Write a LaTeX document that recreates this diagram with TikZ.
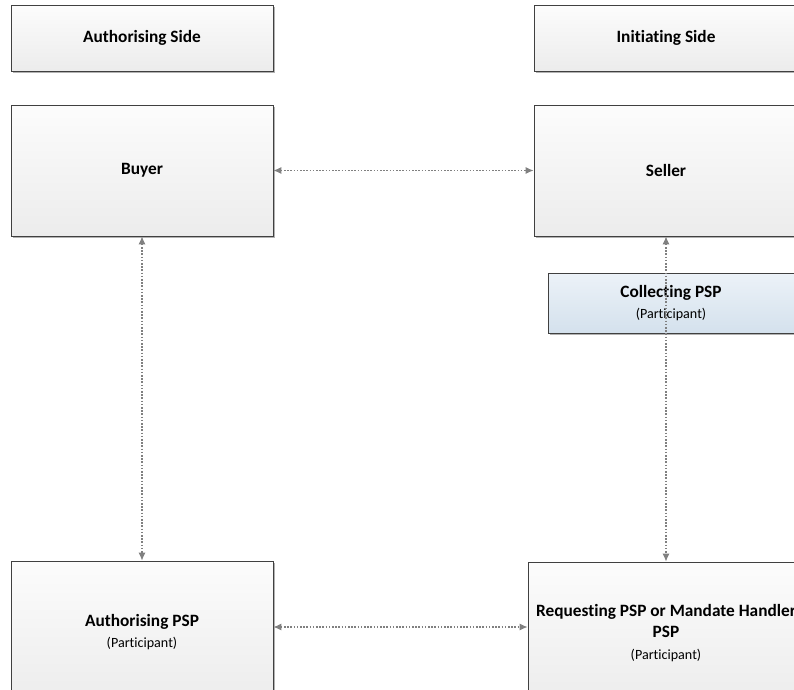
\documentclass[tikz,border=0pt]{standalone}
\usepackage{fontspec}
\setmainfont{Carlito}[RawFeature={-liga;-clig;-calt;-dlig}]
\usetikzlibrary{arrows.meta,shadows}
\definecolor{boxtop}{RGB}{252,252,252}
\definecolor{boxbottom}{RGB}{236,236,236}
\definecolor{bluetop}{RGB}{236,242,248}
\definecolor{bluebottom}{RGB}{212,225,237}
\definecolor{linkgray}{RGB}{128,128,128}
\newcommand{\participantfont}{\normalfont\fontsize{14.1}{21.5}\selectfont}
\begin{document}
\begin{tikzpicture}[x=1pt, y=-1pt,
		party/.style={shape=rectangle, draw=black!75, line width=0.8pt, top color=boxtop, bottom color=boxbottom, align=center, inner sep=0pt,
			font=\fontsize{17.3}{21.5}\selectfont\bfseries, drop shadow={shadow xshift=2pt, shadow yshift=-2pt, fill=black!30, opacity=1}},
		link/.style={draw=linkgray, line width=1.1pt, dash pattern=on 1.6pt off 1.6pt, {Latex[length=8pt,width=7pt]}-{Latex[length=8pt,width=7pt]}}]
		\useasboundingbox (0,0) rectangle (794,689);
		\clip (0,0) rectangle (794,689);

		% Sides
		\node[party, minimum width=262, minimum height=66] (authside) at (142, 38){Authorising Side};
		\node[party, minimum width=264, minimum height=66] (initside) at (666, 38){Initiating Side};

		% Parties
		\node[party, minimum width=262, minimum height=131] (buyer) at (142, 170.5){Buyer};
		\node[party, minimum width=264, minimum height=131] (seller) at (666, 170.5){Seller};
		\node[party, minimum width=246, minimum height=60, top color=bluetop, bottom color=bluebottom] (collpsp) at (671, 303){Collecting PSP\\[-1pt]{\participantfont(Participant)}};

		% PSPs
		\node[party, minimum width=262, minimum height=142] (authpsp) at (142, 632){Authorising PSP\\{\participantfont(Participant)}};
		\node[party, minimum width=276, minimum height=142] (reqpsp) at (666, 633){Requesting PSP or Mandate Handler\\PSP\\{\participantfont(Participant)}};

		\draw[link] (buyer) -- (seller);
		\draw[link] (buyer) -- (authpsp);
		\draw[link] (seller.south) -- (seller.south |- reqpsp.north);
		\draw[link] ([yshift=5pt]authpsp.east) -- ([yshift=5pt]authpsp.east -| reqpsp.west);
	\end{tikzpicture}
\end{document}
